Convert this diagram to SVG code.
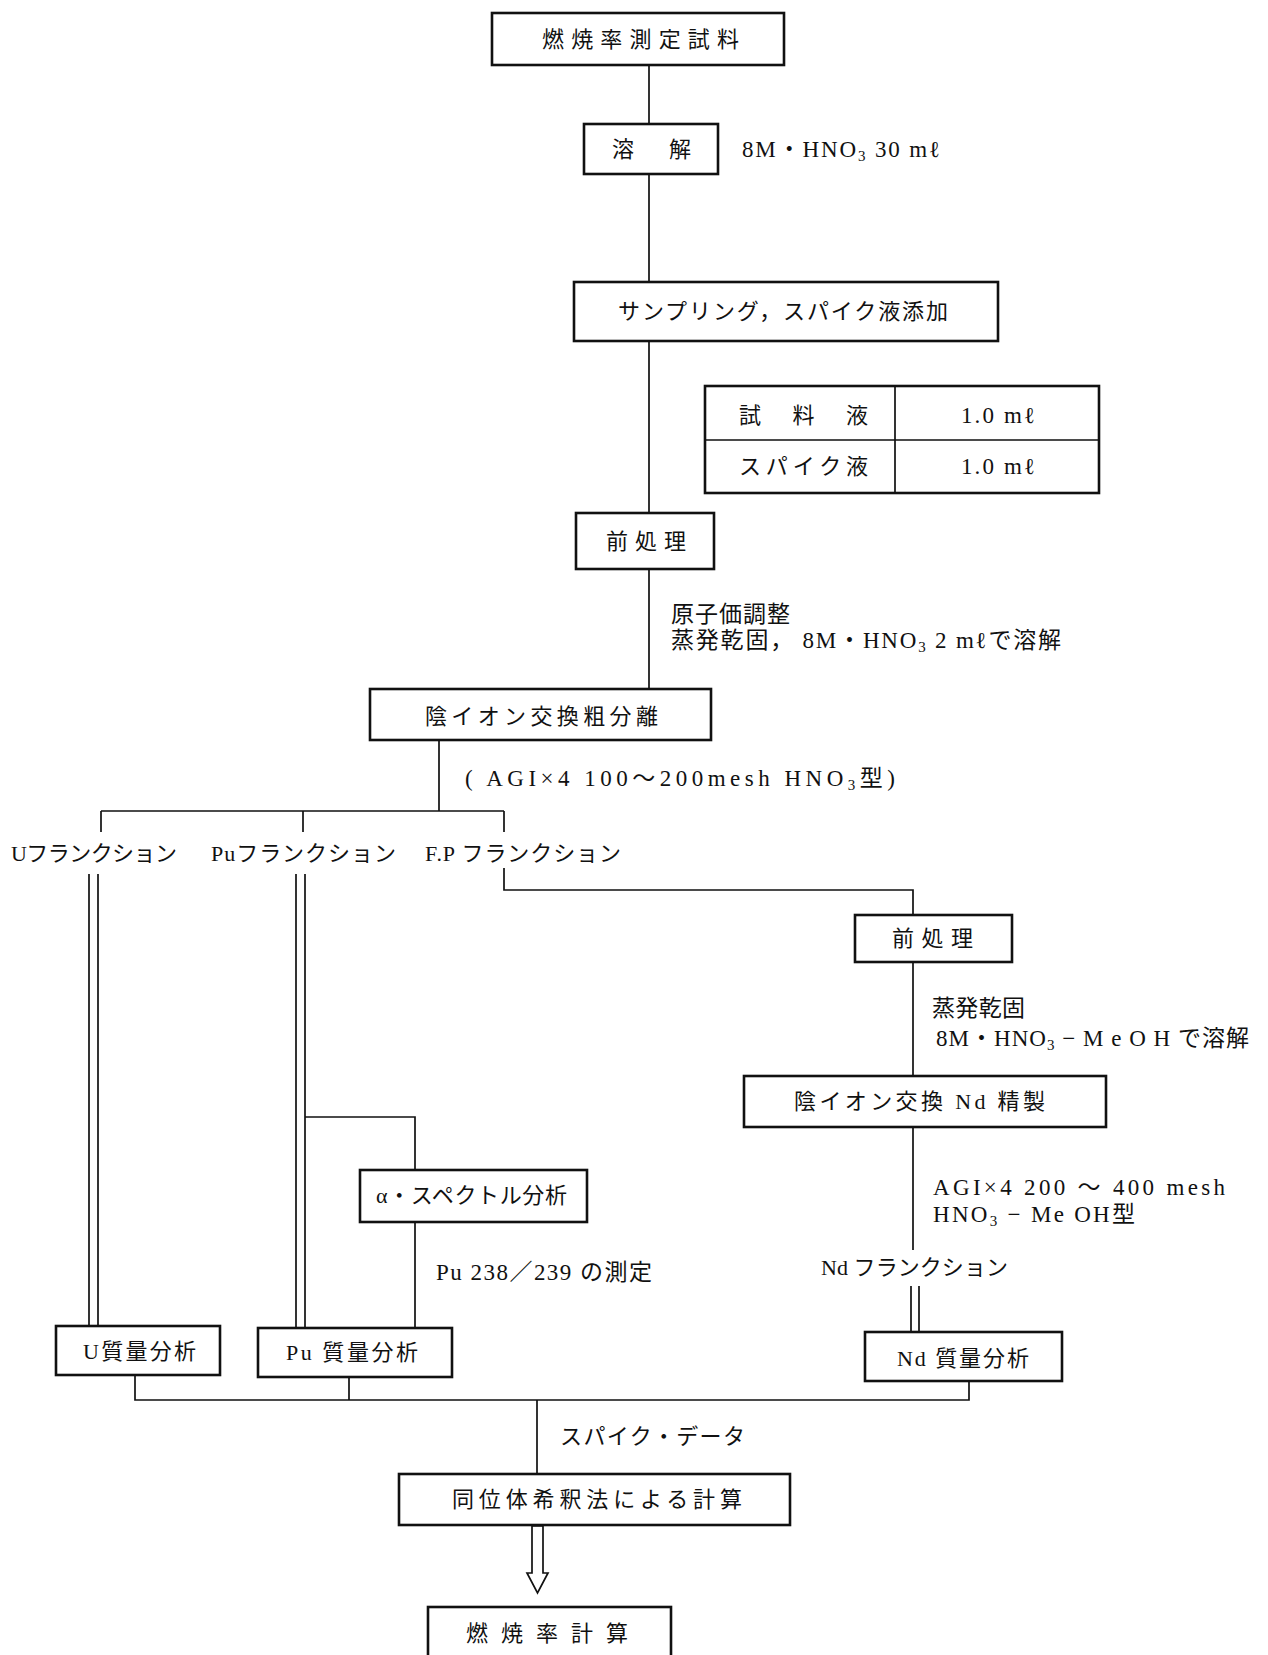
<svg xmlns="http://www.w3.org/2000/svg" width="1268" height="1655" viewBox="0 0 1268 1655">
<style>
.box{fill:#fff;stroke:#111;stroke-width:2.6}
.ln{fill:none;stroke:#111;stroke-width:1.7}
text{font-family:"Liberation Serif","Noto Sans CJK JP",serif;font-size:23px;fill:#111}
.b{font-size:22px}
.s{font-size:15px}
</style>
<rect width="1268" height="1655" fill="#fff"/>
<g id="connectors">
<path class="ln" d="M649 65V124M649 174V282M649 341V513M649 569V689"/>
<path class="ln" d="M439 740V811M101 811H504M101 811V832M303 811V832M504 811V832"/>
<path class="ln" d="M504 868V890H913V915M913 962V1076M913 1127V1250"/>
<path class="ln" d="M89 874V1327M98 874V1327M296 874V1328M305 874V1328"/>
<path class="ln" d="M305 1117H415V1170M415 1222V1328"/>
<path class="ln" d="M911 1286V1332M919 1286V1332"/>
<path class="ln" d="M135 1376V1400H969V1381M349 1377V1400M537 1400V1474"/>
<polygon points="532,1526 532,1573 527,1573 537.5,1593 548,1573 543,1573 543,1526" fill="#fff" stroke="#111" stroke-width="1.7"/>
</g>
<g id="n1"><rect class="box" x="492" y="13" width="292" height="52"/><text class="b" x="542" y="47" textLength="197">燃焼率測定試料</text></g>
<g id="n2"><rect class="box" x="584" y="124" width="134" height="50"/><text class="b" x="612" y="157">溶</text><text class="b" x="669" y="157">解</text></g>
<g id="t1"><text x="742" y="157" textLength="198">8M・HNO<tspan class="s" dy="4">3</tspan><tspan dy="-4">  30 mℓ</tspan></text></g>
<g id="n3"><rect class="box" x="574" y="282" width="424" height="59"/><text class="b" x="618" y="319" textLength="330">サンプリング，スパイク液添加</text></g>
<g id="table">
<rect class="box" x="705" y="386" width="394" height="107"/>
<path class="ln" d="M895 386V493M705 440H1099"/>
<text class="b" x="739" y="423" textLength="129">試　料　液</text>
<text x="961" y="423" textLength="74">1.0 mℓ</text>
<text class="b" x="739" y="474" textLength="129">スパイク液</text>
<text x="961" y="474" textLength="74">1.0 mℓ</text>
</g>
<g id="n4"><rect class="box" x="576" y="513" width="138" height="56"/><text class="b" x="606" y="549" textLength="80">前処理</text></g>
<g id="t2"><text x="671" y="622" textLength="119">原子価調整</text><text x="671" y="648" textLength="390">蒸発乾固，  8M・HNO<tspan class="s" dy="4">3</tspan><tspan dy="-4"> 2 mℓで溶解</tspan></text></g>
<g id="n5"><rect class="box" x="370" y="689" width="341" height="51"/><text class="b" x="425" y="724" textLength="233">陰イオン交換粗分離</text></g>
<g id="t3"><text x="465" y="786" textLength="430">( AGI×4   100～200mesh  HNO<tspan class="s" dy="4">3</tspan><tspan dy="-4">型)</tspan></text></g>
<g id="f1"><text class="b" x="11" y="861" textLength="166">Uフランクション</text></g>
<g id="f2"><text class="b" x="211" y="861" textLength="185">Puフランクション</text></g>
<g id="f3"><text class="b" x="425" y="861" textLength="196">F.P フランクション</text></g>
<g id="n6"><rect class="box" x="855" y="915" width="157" height="47"/><text class="b" x="892" y="946" textLength="81">前処理</text></g>
<g id="t4"><text x="932" y="1016" textLength="93">蒸発乾固</text><text x="936" y="1046" textLength="313">8M・HNO<tspan class="s" dy="4">3</tspan><tspan dy="-4"> − M e O H で溶解</tspan></text></g>
<g id="n7"><rect class="box" x="744" y="1076" width="362" height="51"/><text class="b" x="794" y="1109" textLength="251">陰イオン交換 Nd 精製</text></g>
<g id="t5"><text x="933" y="1195" textLength="292">AGI×4    200 ～ 400 mesh</text><text x="933" y="1222" textLength="202">HNO<tspan class="s" dy="4">3</tspan><tspan dy="-4"> − Me OH型</tspan></text></g>
<g id="f4"><text class="b" x="821" y="1275" textLength="187">Nd フランクション</text></g>
<g id="n8"><rect class="box" x="360" y="1170" width="227" height="52"/><text class="b" x="376" y="1203" textLength="191">α・スペクトル分析</text></g>
<g id="t6"><text x="436" y="1280" textLength="216">Pu 238／239 の測定</text></g>
<g id="n9"><rect class="box" x="56" y="1326" width="164" height="49"/><text class="b" x="83" y="1359" textLength="113">U質量分析</text></g>
<g id="n10"><rect class="box" x="258" y="1328" width="194" height="49"/><text class="b" x="286" y="1360" textLength="132">Pu 質量分析</text></g>
<g id="n11"><rect class="box" x="865" y="1332" width="197" height="49"/><text class="b" x="897" y="1366" textLength="132">Nd 質量分析</text></g>
<g id="t7"><text class="b" x="560" y="1444" textLength="185">スパイク・データ</text></g>
<g id="n12"><rect class="box" x="399" y="1474" width="391" height="51"/><text class="b" x="452" y="1507" textLength="290">同位体希釈法による計算</text></g>
<g id="n13"><rect class="box" x="428" y="1607" width="243" height="70"/><text class="b" x="466" y="1641" textLength="162">燃焼率計算</text></g>
</svg>
